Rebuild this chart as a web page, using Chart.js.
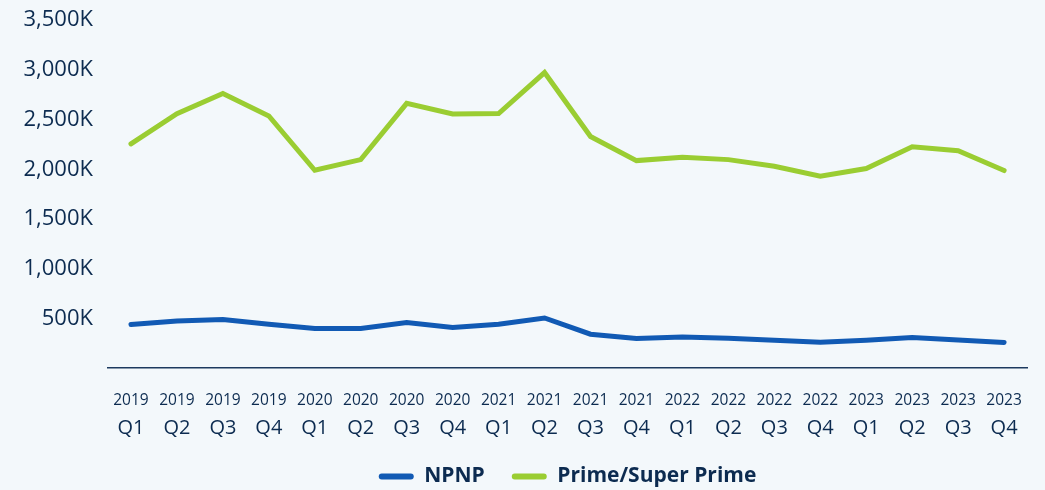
<!DOCTYPE html>
<html lang="en">
<head>
  <meta charset="UTF-8" />
  <title>NPNP vs Prime/Super Prime</title>
  <script src="https://cdn.jsdelivr.net/npm/chart.js"></script>
  <style>
    html, body { margin: 0; padding: 0; background: #f3f8fb; }
    #wrap { width: 1045px; height: 490px; }
  </style>
</head>
<body>
  <div id="wrap"><canvas id="chart" width="1045" height="490"></canvas></div>
  <script>
    const years = ['2019','2019','2019','2019','2020','2020','2020','2020','2021','2021',
                   '2021','2021','2022','2022','2022','2022','2023','2023','2023','2023'];
    const quarters = ['Q1','Q2','Q3','Q4','Q1','Q2','Q3','Q4','Q1','Q2',
                      'Q3','Q4','Q1','Q2','Q3','Q4','Q1','Q2','Q3','Q4'];
    // values in thousands
    const npnp  = [437, 473, 487, 440, 397, 397, 457, 407, 440, 503,
                   340, 297, 313, 300, 280, 260, 280, 307, 282, 257];
    const prime = [2255, 2560, 2763, 2537, 1990, 2097, 2663, 2557, 2560, 2973,
                   2330, 2087, 2120, 2097, 2030, 1930, 2007, 2227, 2187, 1987];
    const yTicks = [0, 500, 1000, 1500, 2000, 2500, 3000, 3500];

    const navy = '#0c2b50';
    const blue = '#115ab4';
    const green = '#9acd32';
    const font = "'Open Sans', sans-serif";

    new Chart(document.getElementById('chart'), {
      type: 'line',
      data: {
        datasets: [
          { label: 'NPNP', data: npnp, borderColor: blue, backgroundColor: blue,
            borderWidth: 5, pointRadius: 0, tension: 0, borderCapStyle: 'round' },
          { label: 'Prime/Super Prime', data: prime, borderColor: green, backgroundColor: green,
            borderWidth: 5, pointRadius: 0, tension: 0, borderCapStyle: 'round' }
        ]
      },
      options: {
        responsive: false,
        animation: false,
        layout: { padding: { top: 9, right: 7, bottom: -7, left: 0 } },
        scales: {
          x: {
            type: 'category',
            labels: years,
            offset: true,
            grid: { display: false, drawTicks: false },
            border: { display: true, color: '#1d3a5f', width: 1.5 },
            ticks: { color: navy, font: { family: font, size: 15.5, lineHeight: 1.2 }, padding: 23,
                     maxRotation: 0, autoSkip: false },
            afterFit: s => { s.height = 41; }
          },
          x2: {
            type: 'category',
            position: 'bottom',
            labels: quarters,
            offset: true,
            grid: { display: false, drawTicks: false },
            border: { display: false },
            ticks: { color: navy, font: { family: font, size: 20, lineHeight: 1.0 }, padding: 9,
                     maxRotation: 0, autoSkip: false },
            afterFit: s => { s.height = 30; }
          },
          y: {
            min: yTicks[0],
            max: yTicks[yTicks.length - 1],
            grid: { display: false },
            border: { display: false },
            afterBuildTicks: s => { s.ticks = yTicks.map(v => ({ value: v })); },
            ticks: {
              color: navy, font: { family: font, size: 22 }, padding: 7,
              callback: v => v === 0 ? '' : v.toLocaleString('en-US') + 'K'
            },
            afterFit: s => { s.width = 108; }
          }
        },
        plugins: {
          tooltip: { enabled: false },
          legend: {
            position: 'bottom',
            fullSize: false,
            labels: {
              color: navy,
              font: { family: font, size: 21, weight: 'bold' },
              boxWidth: 35,
              boxHeight: 6,
              padding: 27,
              useBorderRadius: true,
              borderRadius: 3,
              generateLabels: chart => chart.data.datasets.map((d, i) => ({
                text: d.label, fillStyle: d.borderColor, strokeStyle: d.borderColor,
                lineWidth: 0, datasetIndex: i, fontColor: navy, borderRadius: 3
              }))
            }
          }
        }
      }
    });
  </script>
</body>
</html>
